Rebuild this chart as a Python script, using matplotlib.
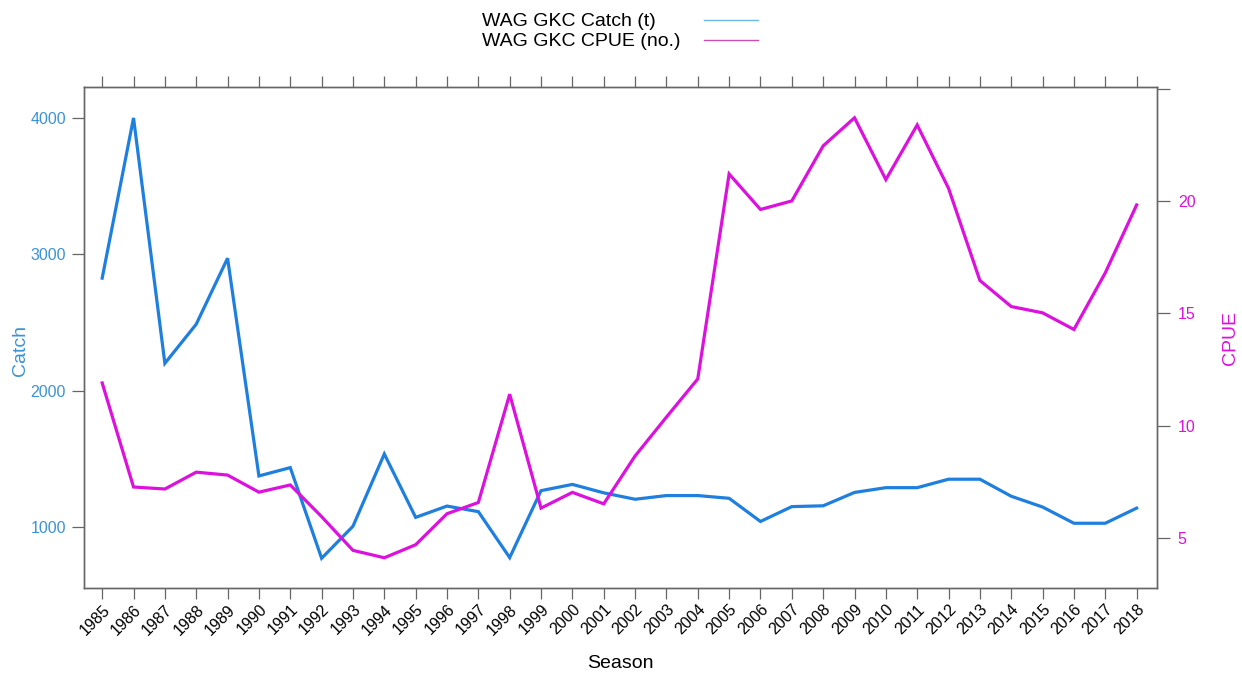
import matplotlib
matplotlib.use("Agg")
import matplotlib.pyplot as plt
from matplotlib.lines import Line2D

plt.rcParams['font.family'] = ['Liberation Sans', 'DejaVu Sans']

seasons = list(range(1985, 2019))
catch = [2825, 4000, 2200, 2487, 2971, 1374, 1435, 770, 1005, 1535,
         1070, 1153, 1112, 775, 1266, 1312, 1250, 1203, 1230, 1230,
         1210, 1040, 1149, 1155, 1253, 1288, 1288, 1350, 1350, 1225,
         1146, 1027, 1027, 1138]
cpue = [11.9, 7.27, 7.18, 7.93, 7.8, 7.04, 7.36, 5.95, 4.45, 4.12,
        4.7, 6.08, 6.58, 11.4, 6.33, 7.03, 6.52, 8.65, 10.38, 12.08,
        21.2, 19.62, 20.0, 22.45, 23.7, 20.95, 23.38, 20.56, 16.46, 15.3,
        15.02, 14.28, 16.8, 19.82]
catch_ticks = [1000, 2000, 3000, 4000]
cpue_ticks = [5, 10, 15, 20, 25]
cpue_ticklabels = ['5', '10', '15', '20', '']

BLUE = '#1f7fdf'
BLUE_TXT = '#3a93d6'
MAG = '#dd11dd'
GRAY = '#666666'

fig = plt.figure(figsize=(12.42, 6.76), dpi=100)
ax = fig.add_axes([84/1242, 1-588/676, (1157-84)/1242, (588-87)/676])
ax2 = ax.twinx()

ax.plot(seasons, catch, color=BLUE, lw=2.3, solid_joinstyle='miter')
ax2.plot(seasons, cpue, color=MAG, lw=2.3, solid_joinstyle='miter')

ax.set_xlim(1985 - 0.58, 2018 + 0.65)
ax.set_ylim(552, 4227)
ax2.set_ylim(2.775, 25.07)

ax.set_xticks(seasons)
ax.set_xticklabels([str(s) for s in seasons], rotation=45, ha='right',
                   rotation_mode='anchor', fontsize=11.5)
ax.set_yticks(catch_ticks)
ax.set_yticklabels([str(t) for t in catch_ticks], fontsize=11.5, color=BLUE_TXT)
ax2.set_yticks(cpue_ticks)
ax2.set_yticklabels(cpue_ticklabels, fontsize=11.5, color=MAG)

ax.tick_params(axis='x', direction='out', length=8, width=0.9, color=GRAY,
               top=True, labeltop=False, pad=2)
ax.tick_params(axis='y', direction='out', length=9, width=0.9, color=GRAY, pad=4)
ax2.tick_params(axis='y', direction='out', length=9, width=0.9, color=GRAY, pad=6)

for a in (ax, ax2):
    for s in a.spines.values():
        s.set_color(GRAY)
        s.set_linewidth(1.0)

# axis titles placed explicitly
fig.text(620/1242, 1-664/676, 'Season', fontsize=14, ha='center', va='center')
fig.text(20/1242, 1-350/676, 'Catch', fontsize=14, color=BLUE_TXT,
         rotation=90, ha='center', va='center')
fig.text(1231/1242, 1-338/676, 'CPUE', fontsize=14, color=MAG,
         rotation=90, ha='center', va='center')

# legend at top
fig.text(482/1242, 1-21/676, 'WAG GKC Catch (t)', fontsize=14, va='center', ha='left')
fig.text(482/1242, 1-41/676, 'WAG GKC CPUE (no.)', fontsize=14, va='center', ha='left')
fig.add_artist(Line2D([704/1242, 758/1242], [1-20/676, 1-20/676],
                      color='#6ab7e8', lw=1.0, transform=fig.transFigure))
fig.add_artist(Line2D([704/1242, 758/1242], [1-40/676, 1-40/676],
                      color='#cc4fb0', lw=1.0, transform=fig.transFigure))

fig.savefig('out.png', dpi=100, facecolor='white')
